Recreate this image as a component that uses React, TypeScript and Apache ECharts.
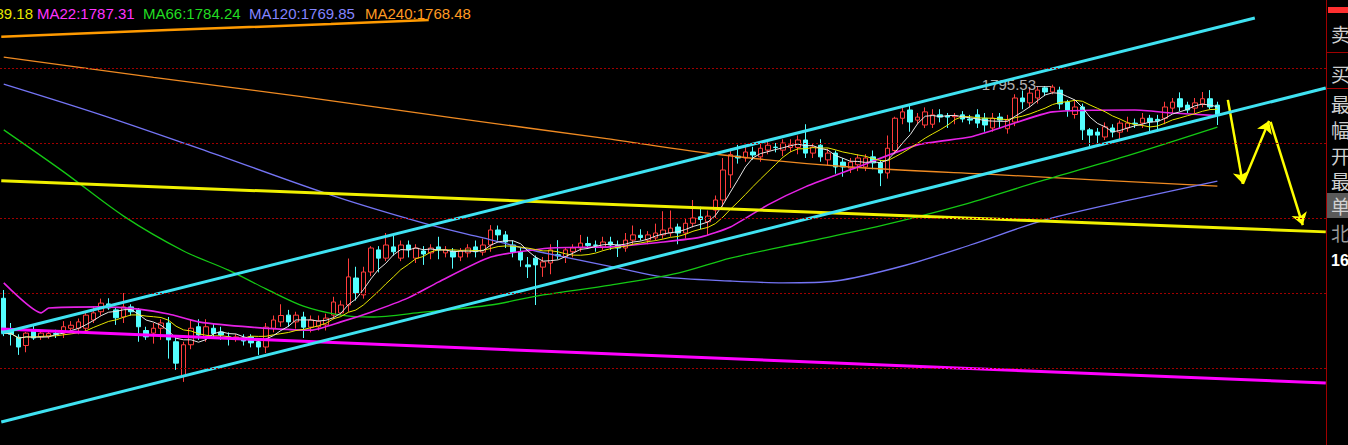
import React, { useEffect, useRef } from "react";
import * as echarts from "echarts";

// Price window of the plot (top edge / bottom edge)
const Y_MAX = 1818.13;
const Y_MIN = 1699.47;
// Number of bar slots across the plot (the last ones stay empty)
const SLOT_COUNT = 177;

// Daily candles: [open, close, low, high]
const candles: number[][] = [
  [1738.6, 1729.3, 1728.5, 1740.8], [1730.0, 1729.0, 1726.0, 1732.0], [1728.2, 1725.6, 1723.5, 1729.0],
  [1726.0, 1729.3, 1724.2, 1729.6], [1730.1, 1728.0, 1727.5, 1731.5], [1728.3, 1729.3, 1727.5, 1730.0],
  [1728.5, 1729.2, 1727.8, 1730.0], [1729.2, 1729.0, 1728.0, 1730.2], [1729.3, 1731.0, 1728.0, 1732.5],
  [1730.6, 1731.4, 1729.5, 1732.5], [1730.6, 1732.3, 1729.0, 1733.2], [1730.6, 1734.1, 1729.5, 1735.0],
  [1732.8, 1734.7, 1732.0, 1736.5], [1735.0, 1737.3, 1734.0, 1738.5], [1737.1, 1736.0, 1735.5, 1738.6],
  [1735.5, 1733.4, 1731.5, 1736.0], [1733.6, 1736.3, 1732.0, 1740.0], [1736.3, 1735.0, 1734.0, 1737.0],
  [1735.5, 1731.0, 1727.0, 1736.0], [1730.0, 1728.3, 1727.5, 1731.0], [1729.3, 1730.6, 1726.5, 1732.0],
  [1730.6, 1732.0, 1727.5, 1733.0], [1732.0, 1727.5, 1722.5, 1733.6], [1727.0, 1721.3, 1719.5, 1728.0],
  [1718.0, 1726.2, 1716.3, 1727.0], [1726.2, 1730.6, 1725.0, 1733.0], [1731.0, 1728.8, 1727.5, 1733.0],
  [1728.3, 1731.0, 1727.0, 1733.0], [1730.6, 1729.2, 1727.8, 1732.0], [1729.6, 1728.8, 1727.5, 1731.0],
  [1728.3, 1728.1, 1726.0, 1729.5], [1728.0, 1728.3, 1727.0, 1729.0], [1728.0, 1727.2, 1726.0, 1729.0],
  [1728.3, 1726.7, 1725.5, 1729.0], [1727.0, 1725.6, 1723.5, 1728.0], [1725.6, 1730.9, 1724.0, 1732.0],
  [1730.6, 1732.8, 1729.5, 1734.0], [1732.3, 1734.0, 1731.0, 1737.0], [1734.1, 1732.3, 1731.0, 1735.5],
  [1732.3, 1734.1, 1730.5, 1735.0], [1733.6, 1730.9, 1728.0, 1735.0], [1730.9, 1732.8, 1729.5, 1734.0],
  [1731.0, 1732.5, 1730.0, 1734.0], [1731.5, 1733.3, 1730.0, 1734.5], [1734.1, 1737.6, 1733.0, 1739.0],
  [1734.7, 1736.8, 1734.0, 1738.0], [1736.8, 1744.3, 1735.0, 1749.2], [1744.0, 1740.0, 1738.0, 1747.0],
  [1739.5, 1745.6, 1738.5, 1747.0], [1745.6, 1752.0, 1744.5, 1752.5], [1751.5, 1749.3, 1745.5, 1752.5],
  [1749.3, 1752.8, 1748.5, 1756.0], [1752.3, 1751.0, 1750.0, 1756.0], [1749.3, 1752.8, 1748.5, 1754.0],
  [1752.8, 1751.5, 1749.5, 1754.0], [1749.3, 1752.0, 1748.0, 1753.0], [1751.2, 1750.4, 1747.5, 1752.5],
  [1750.7, 1752.0, 1749.0, 1753.0], [1752.3, 1751.5, 1749.0, 1755.0], [1750.7, 1751.5, 1749.5, 1752.5],
  [1751.2, 1749.6, 1746.5, 1752.0], [1749.6, 1751.2, 1748.5, 1752.0], [1750.7, 1752.0, 1749.5, 1753.0],
  [1752.3, 1751.0, 1749.5, 1754.0], [1750.9, 1752.8, 1750.0, 1754.5], [1752.8, 1756.8, 1751.0, 1758.1],
  [1756.8, 1755.5, 1754.0, 1758.0], [1755.5, 1753.6, 1752.0, 1756.5], [1752.8, 1750.9, 1749.5, 1754.0],
  [1751.0, 1748.8, 1747.0, 1752.0], [1747.5, 1747.0, 1744.0, 1749.6], [1749.3, 1747.5, 1736.8, 1750.0],
  [1746.9, 1748.3, 1744.3, 1749.6], [1748.0, 1751.5, 1745.0, 1753.0], [1750.2, 1749.9, 1749.0, 1754.1],
  [1749.6, 1751.5, 1748.0, 1752.0], [1751.0, 1752.0, 1749.5, 1753.0], [1752.0, 1753.3, 1751.0, 1755.5],
  [1753.2, 1752.7, 1752.0, 1755.0], [1752.8, 1752.7, 1751.0, 1754.0], [1752.2, 1753.6, 1751.5, 1755.0],
  [1753.6, 1752.8, 1751.5, 1755.0], [1752.8, 1752.0, 1749.6, 1754.0], [1752.0, 1754.1, 1751.0, 1756.0],
  [1754.1, 1755.5, 1753.0, 1758.0], [1755.4, 1754.8, 1754.0, 1757.0], [1754.1, 1755.5, 1753.0, 1756.5],
  [1754.7, 1756.0, 1754.0, 1758.5], [1755.5, 1756.8, 1754.5, 1761.8], [1756.0, 1757.3, 1755.0, 1762.0],
  [1757.6, 1756.0, 1753.0, 1758.5], [1756.0, 1758.6, 1754.5, 1760.0], [1758.6, 1760.0, 1757.5, 1764.8],
  [1760.3, 1759.6, 1757.0, 1763.0], [1759.0, 1760.5, 1755.5, 1762.0], [1762.1, 1764.8, 1760.0, 1766.0],
  [1764.8, 1772.8, 1763.0, 1776.0], [1771.5, 1776.9, 1768.0, 1778.5], [1776.5, 1776.0, 1774.5, 1779.5],
  [1776.0, 1777.6, 1775.0, 1779.0], [1777.6, 1776.8, 1775.5, 1779.0], [1776.3, 1778.6, 1775.0, 1780.0],
  [1778.1, 1779.4, 1777.0, 1780.5], [1778.9, 1778.8, 1777.5, 1780.0], [1778.1, 1780.0, 1776.5, 1781.0],
  [1778.8, 1779.5, 1777.5, 1781.0], [1778.8, 1780.8, 1777.0, 1782.0], [1780.8, 1777.3, 1776.0, 1785.0],
  [1777.3, 1778.9, 1776.0, 1780.0], [1779.4, 1776.3, 1775.0, 1781.0], [1775.5, 1777.3, 1774.0, 1778.5],
  [1777.3, 1773.6, 1771.8, 1778.0], [1774.9, 1773.6, 1771.0, 1776.0], [1773.3, 1774.9, 1772.0, 1776.0],
  [1774.2, 1776.0, 1772.5, 1777.0], [1773.6, 1776.0, 1772.5, 1777.0], [1776.3, 1774.7, 1773.0, 1778.0],
  [1774.7, 1772.0, 1768.5, 1775.5], [1772.0, 1778.6, 1770.5, 1782.0], [1778.0, 1786.6, 1777.0, 1787.0],
  [1786.6, 1788.3, 1785.0, 1790.0], [1788.8, 1785.6, 1783.0, 1790.0], [1786.1, 1786.9, 1785.0, 1788.0],
  [1784.8, 1788.3, 1784.0, 1789.5], [1785.0, 1787.5, 1784.0, 1789.0], [1787.5, 1786.9, 1785.5, 1789.0],
  [1787.2, 1786.9, 1784.0, 1788.0], [1787.0, 1787.2, 1785.0, 1788.0], [1787.5, 1786.4, 1785.5, 1788.5],
  [1786.4, 1786.1, 1785.0, 1787.5], [1787.5, 1785.3, 1784.0, 1789.0], [1786.6, 1784.8, 1783.0, 1788.0],
  [1784.0, 1786.6, 1783.0, 1788.0], [1786.9, 1786.1, 1784.0, 1788.0], [1783.8, 1786.1, 1782.5, 1787.5],
  [1785.6, 1792.0, 1784.5, 1793.0], [1792.0, 1791.0, 1789.0, 1794.0], [1790.7, 1793.3, 1789.5, 1794.5],
  [1792.0, 1794.1, 1790.5, 1795.0], [1794.7, 1793.6, 1792.5, 1795.2], [1793.6, 1794.9, 1793.0, 1795.53],
  [1794.1, 1790.4, 1789.0, 1795.0], [1790.9, 1788.8, 1787.0, 1791.5], [1787.6, 1789.6, 1786.5, 1791.5],
  [1789.6, 1783.5, 1780.8, 1790.5], [1783.5, 1782.1, 1778.6, 1784.0], [1782.9, 1782.1, 1780.0, 1784.0],
  [1781.6, 1784.3, 1780.8, 1785.5], [1784.0, 1782.9, 1781.5, 1785.0], [1782.9, 1785.3, 1781.0, 1786.0],
  [1784.0, 1785.3, 1783.0, 1787.0], [1785.3, 1785.1, 1784.0, 1786.5], [1785.3, 1786.6, 1784.0, 1788.0],
  [1786.6, 1785.6, 1782.8, 1787.5], [1786.3, 1785.9, 1783.0, 1787.5], [1786.6, 1789.6, 1785.0, 1791.0],
  [1789.3, 1790.9, 1788.0, 1792.0], [1791.8, 1789.6, 1788.5, 1793.5], [1790.1, 1788.8, 1788.0, 1791.0],
  [1789.3, 1790.7, 1788.0, 1792.0], [1790.4, 1791.8, 1789.5, 1793.6], [1791.8, 1789.6, 1789.0, 1794.1],
  [1790.1, 1787.5, 1784.8, 1791.0],
];

// Longer moving averages, read at points: [bar index, price]
const ma22Pts = [
  [0, 1742.7], [5, 1734.7], [6, 1736.0], [13, 1736.3], [18, 1735.7], [22, 1734.4], [26, 1732.3],
  [33, 1730.9], [41, 1730.1], [45, 1732.3], [49, 1734.9], [54, 1738.7], [58, 1742.9], [65, 1749.6],
  [73, 1752.0], [81, 1752.3], [88, 1753.6], [93, 1754.9], [97, 1757.6], [102, 1763.5], [107, 1768.3],
  [114, 1773.6], [122, 1779.5], [129, 1781.6], [133, 1784.0], [140, 1788.3], [151, 1788.8],
  [156, 1788.0], [162, 1787.31],
];
const ma66Pts = [
  [0, 1783.5], [8, 1772.3], [16, 1760.5], [24, 1751.2], [30, 1746.1], [35, 1741.1], [40, 1736.5],
  [45, 1734.1], [49, 1733.6], [56, 1734.9], [65, 1736.8], [72, 1739.5], [81, 1742.1], [90, 1745.3],
  [97, 1749.3], [107, 1753.6], [117, 1757.9], [128, 1763.5], [138, 1769.6], [149, 1776.0], [162, 1784.24],
];
const ma120Pts = [
  [0, 1795.7], [13, 1787.5], [27, 1777.9], [44, 1765.9], [57, 1758.1], [64, 1754.7], [71, 1751.2],
  [82, 1746.7], [88, 1744.3], [97, 1743.2], [104, 1742.7], [111, 1743.2], [120, 1747.2], [129, 1752.8],
  [139, 1759.5], [151, 1765.1], [162, 1769.85],
];
const ma240Pts = [
  [0, 1802.9], [20, 1797.5], [40, 1792.3], [60, 1786.7], [80, 1781.3], [96, 1776.8], [113, 1773.6],
  [133, 1771.5], [162, 1768.48],
];

// Hand-drawn study lines: [bar index, price]
const channelUpper = [[-0.33, 1729.33], [167.0, 1813.33]];
const channelLower = [[-0.33, 1705.6], [176.47, 1794.66]];
const supportYellow = [[-0.33, 1769.9], [176.47, 1756.3]];
const supportMagenta = [[-0.33, 1730.4], [176.47, 1716.0]];
const ceilingOrange = [[-0.33, 1808.3], [21.9, 1810.1], [43.67, 1811.7], [56.73, 1812.8]];
const forecastArrows = [
  [[163.4, 1791.5], [165.4, 1769.1]],
  [[165.4, 1769.1], [168.9, 1785.9]],
  [[169.1, 1785.6], [173.4, 1758.1]],
];

// Highest high marker
const peakMark = [[140, 1795.53]];

// Dotted price levels
const gridLevels = [1720, 1740, 1760, 1780, 1800];

// Indicator header
const legendItems = [
  { text: "MA10:1789.18", color: "#e6e600", x: 33, align: "right" },
  { text: "MA22:1787.31", color: "#ff33ff", x: 37, align: "left" },
  { text: "MA66:1784.24", color: "#22dd22", x: 143, align: "left" },
  { text: "MA120:1769.85", color: "#8484ff", x: 249, align: "left" },
  { text: "MA240:1768.48", color: "#ff9a22", x: 365, align: "left" },
];

// Side panel captions
const panelLabels = ["卖", "买", "最", "幅", "开", "最", "单", "北"];
const panelLabelY = [33, 73, 103, 129, 155, 180, 205, 232];
const panelNumber = "16";

function movingAverage(values: number[], n: number): number[] {
  return values.map((_, i) => {
    const w = values.slice(Math.max(0, i - n + 1), i + 1);
    return +(w.reduce((a, b) => a + b, 0) / w.length).toFixed(2);
  });
}

function buildOption() {
  const slots = Array.from({ length: SLOT_COUNT }, (_, i) => String(i + 1));
  const closes = candles.map((c) => c[1]);
  const ma5 = movingAverage(closes, 5);
  const ma10 = movingAverage(closes, 10);

  const ptLine = (data: number[][], color: string, width: number, smooth: number | boolean = false) => ({
    type: "line",
    xAxisIndex: 1,
    yAxisIndex: 0,
    data,
    symbol: "none",
    smooth,
    silent: true,
    lineStyle: { color, width },
  });

  const font = '"Liberation Sans", Arial, sans-serif';
  const graphic: any[] = [];
  legendItems.forEach((it) => {
    graphic.push({
      type: "text",
      x: it.x,
      y: 13,
      silent: true,
      style: {
        text: it.text,
        fill: it.color,
        font: `15px ${font}`,
        align: it.align,
        verticalAlign: "middle",
        textAlign: it.align,
        textVerticalAlign: "middle",
      },
    });
  });
  // side panel
  graphic.push({ type: "rect", shape: { x: 1326, y: 0, width: 22, height: 445 }, style: { fill: "#000" }, silent: true });
  graphic.push({ type: "rect", shape: { x: 1328, y: 7, width: 20, height: 6 }, style: { fill: "#ff3030" }, silent: true });
  graphic.push({ type: "rect", shape: { x: 1327, y: 193, width: 21, height: 25 }, style: { fill: "#5a5a5a" }, silent: true });
  graphic.push({ type: "line", shape: { x1: 1326.5, y1: 0, x2: 1326.5, y2: 445 }, style: { stroke: "#a00000", lineWidth: 1 }, silent: true });
  graphic.push({ type: "line", shape: { x1: 1326, y1: 52.5, x2: 1348, y2: 52.5 }, style: { stroke: "#a00000", lineWidth: 1 }, silent: true });
  graphic.push({ type: "line", shape: { x1: 1326, y1: 88.5, x2: 1348, y2: 88.5 }, style: { stroke: "#a00000", lineWidth: 1 }, silent: true });
  panelLabels.forEach((t, i) => {
    graphic.push({
      type: "text",
      x: 1331,
      y: panelLabelY[i],
      silent: true,
      style: {
        text: t,
        fill: i === 7 ? "#9a9a9a" : "#d0d0d0",
        font: '19px "Noto Sans CJK SC", sans-serif',
        verticalAlign: "middle",
        textVerticalAlign: "middle",
      },
    });
  });
  graphic.push({
    type: "text",
    x: 1331,
    y: 260,
    silent: true,
    style: {
      text: panelNumber,
      fill: "#ffffff",
      font: `bold 16px ${font}`,
      verticalAlign: "middle",
      textVerticalAlign: "middle",
    },
  });

  return {
    animation: false,
    backgroundColor: "#000",
    grid: { left: 0, right: 22, top: 0, bottom: 0 },
    xAxis: [
      { type: "category", data: slots, show: false, boundaryGap: true },
      { type: "value", min: -0.5, max: SLOT_COUNT - 0.5, show: false },
    ],
    yAxis: { type: "value", min: Y_MIN, max: Y_MAX, show: false },
    graphic,
    series: [
      {
        type: "candlestick",
        xAxisIndex: 0,
        yAxisIndex: 0,
        data: candles,
        barWidth: 5,
        silent: true,
        itemStyle: {
          color: "#000000",
          borderColor: "#ff3c3c",
          color0: "#54ffff",
          borderColor0: "#54ffff",
          borderWidth: 1,
        },
        markLine: {
          silent: true,
          symbol: "none",
          label: { show: false },
          lineStyle: { color: "#a00000", type: [2, 2], width: 1 },
          data: gridLevels.map((v) => ({ yAxis: v })),
        },
      },
      ptLine(ma240Pts, "#ef8a22", 1.3, 0.3),
      ptLine(ma120Pts, "#7474f4", 1.3, 0.3),
      ptLine(ma66Pts, "#14c814", 1.3, 0.3),
      ptLine(ma22Pts, "#e622e6", 1.6, 0.2),
      {
        type: "line",
        xAxisIndex: 0,
        data: ma10,
        symbol: "none",
        silent: true,
        lineStyle: { color: "#e6e600", width: 1 },
      },
      {
        type: "line",
        xAxisIndex: 0,
        data: ma5,
        symbol: "none",
        silent: true,
        lineStyle: { color: "#e6e6e6", width: 1 },
      },
      ptLine(ceilingOrange, "#ff9a00", 2.5),
      ptLine(supportMagenta, "#ff00ff", 3),
      ptLine(supportYellow, "#f0f000", 3),
      ptLine(channelUpper, "#3fe2f2", 3),
      ptLine(channelLower, "#3fe2f2", 3),
      {
        type: "lines",
        coordinateSystem: "cartesian2d",
        xAxisIndex: 1,
        yAxisIndex: 0,
        silent: true,
        symbol: ["none", "arrow"],
        symbolSize: 12,
        lineStyle: { color: "#ffff00", width: 2.5, opacity: 1, curveness: 0 },
        data: forecastArrows.map((coords) => ({ coords })),
      },
      {
        type: "scatter",
        xAxisIndex: 1,
        yAxisIndex: 0,
        data: peakMark,
        symbolSize: 1,
        silent: true,
        itemStyle: { color: "rgba(0,0,0,0)" },
        label: {
          show: true,
          position: "left",
          distance: 1,
          formatter: (p: any) => `${p.value[1].toFixed(2)}—`,
          color: "#e0e0e0",
          fontSize: 15,
          fontFamily: font,
        },
      },
    ],
  };
}

export default function App() {
  const ref = useRef<HTMLDivElement>(null);
  useEffect(() => {
    document.body.style.margin = "0";
    document.body.style.background = "#000";
    const chart = echarts.init(ref.current as HTMLDivElement, undefined, { renderer: "svg" });
    chart.setOption(buildOption() as any);
    return () => chart.dispose();
  }, []);
  return <div ref={ref} style={{ width: 1348, height: 445, background: "#000" }} />;
}
